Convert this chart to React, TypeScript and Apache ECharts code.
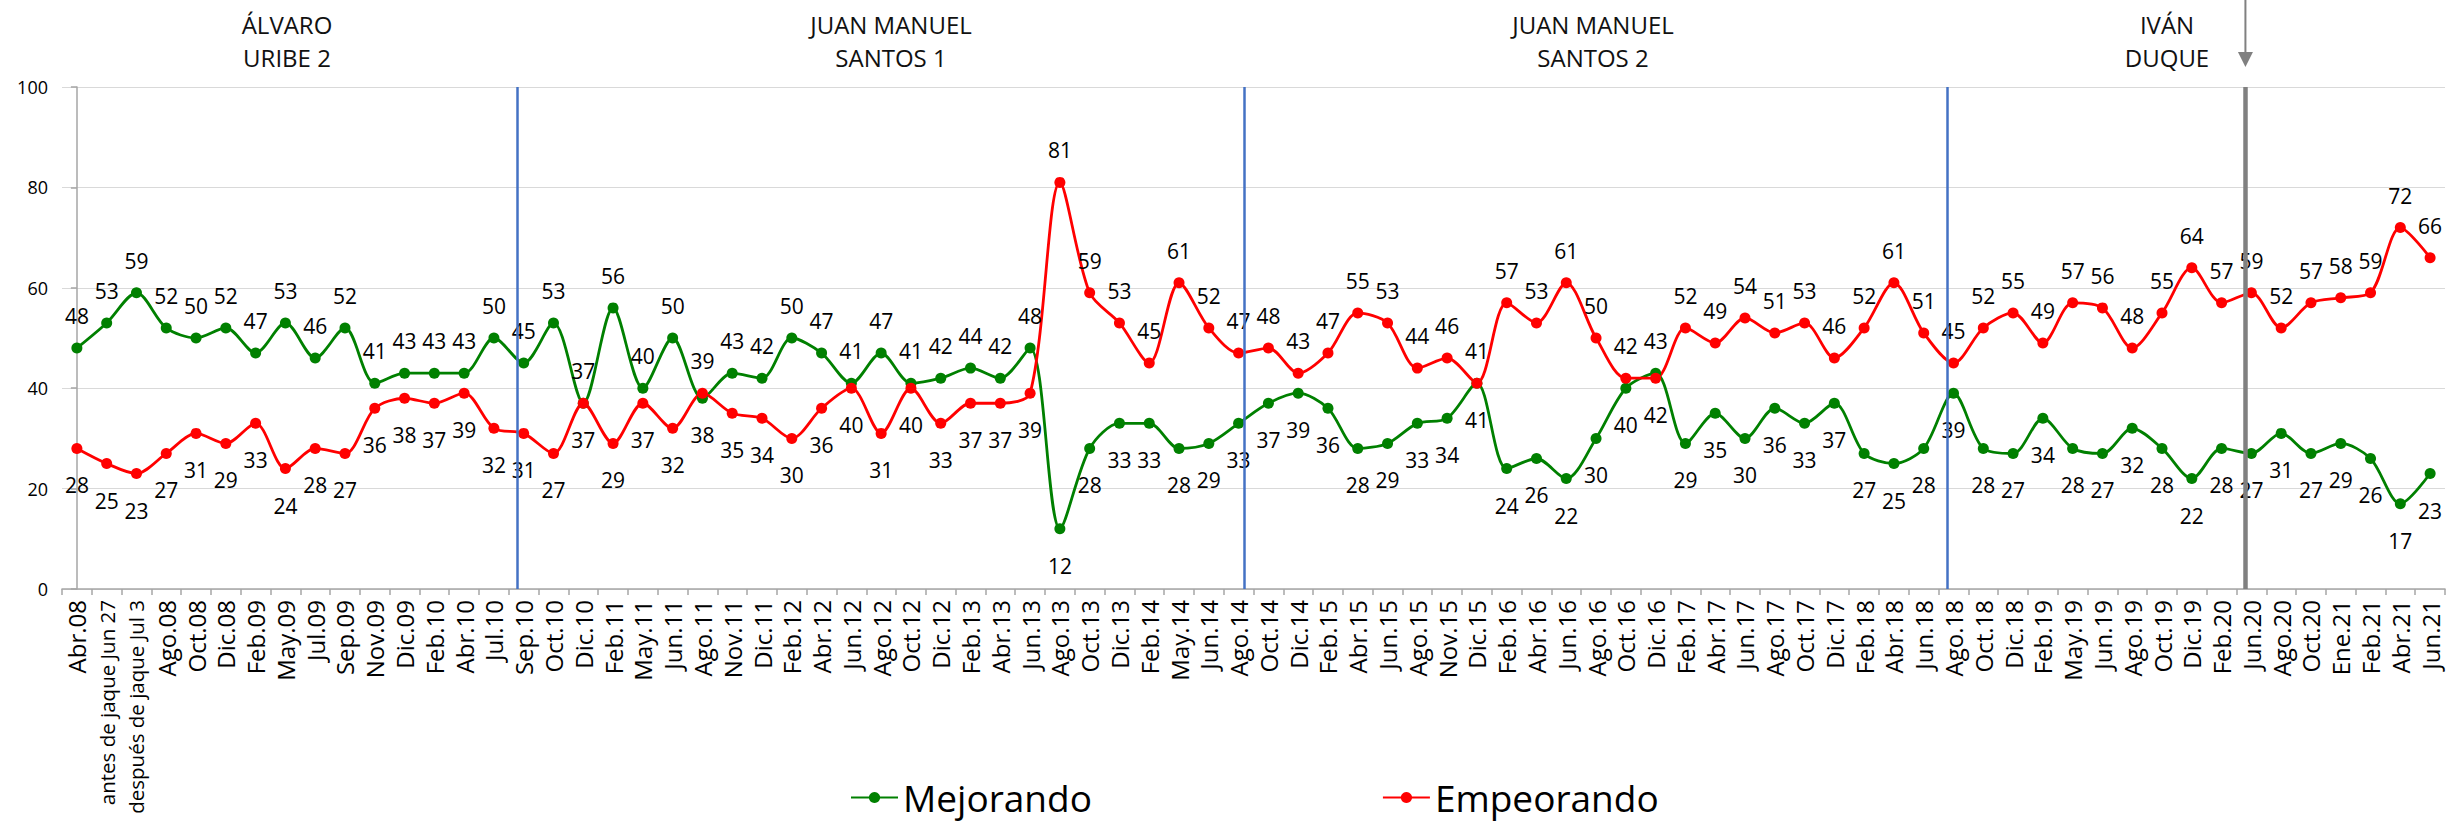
import React, { useEffect, useRef } from "react";
import * as echarts from "echarts";

const categories = [
  "Abr.08", "antes de jaque Jun 27", "después de jaque Jul 3", "Ago.08", "Oct.08", "Dic.08", "Feb.09", "May.09", "Jul.09", "Sep.09",
  "Nov.09", "Dic.09", "Feb.10", "Abr.10", "Jul.10", "Sep.10", "Oct.10", "Dic.10", "Feb.11", "May.11",
  "Jun.11", "Ago.11", "Nov.11", "Dic.11", "Feb.12", "Abr.12", "Jun.12", "Ago.12", "Oct.12", "Dic.12",
  "Feb.13", "Abr.13", "Jun.13", "Ago.13", "Oct.13", "Dic.13", "Feb.14", "May.14", "Jun.14", "Ago.14",
  "Oct.14", "Dic.14", "Feb.15", "Abr.15", "Jun.15", "Ago.15", "Nov.15", "Dic.15", "Feb.16", "Abr.16",
  "Jun.16", "Ago.16", "Oct.16", "Dic.16", "Feb.17", "Abr.17", "Jun.17", "Ago.17", "Oct.17", "Dic.17",
  "Feb.18", "Abr.18", "Jun.18", "Ago.18", "Oct.18", "Dic.18", "Feb.19", "May.19", "Jun.19", "Ago.19",
  "Oct.19", "Dic.19", "Feb.20", "Jun.20", "Ago.20", "Oct.20", "Ene.21", "Feb.21", "Abr.21", "Jun.21",
];

const mejorando = [
  48, 53, 59, 52, 50, 52, 47, 53, 46, 52,
  41, 43, 43, 43, 50, 45, 53, 37, 56, 40,
  50, 38, 43, 42, 50, 47, 41, 47, 41, 42,
  44, 42, 48, 12, 28, 33, 33, 28, 29, 33,
  37, 39, 36, 28, 29, 33, 34, 41, 24, 26,
  22, 30, 40, 43, 29, 35, 30, 36, 33, 37,
  27, 25, 28, 39, 28, 27, 34, 28, 27, 32,
  28, 22, 28, 27, 31, 27, 29, 26, 17, 23,
];

const empeorando = [
  28, 25, 23, 27, 31, 29, 33, 24, 28, 27,
  36, 38, 37, 39, 32, 31, 27, 37, 29, 37,
  32, 39, 35, 34, 30, 36, 40, 31, 40, 33,
  37, 37, 39, 81, 59, 53, 45, 61, 52, 47,
  48, 43, 47, 55, 53, 44, 46, 41, 57, 53,
  61, 50, 42, 42, 52, 49, 54, 51, 53, 46,
  52, 61, 51, 45, 52, 55, 49, 57, 56, 48,
  55, 64, 57, 59, 52, 57, 58, 59, 72, 66,
];

const yTicks = { min: 0, max: 100, interval: 20 };

// Period separators (fractional category positions)
const periodLines = [14.8, 39.18, 62.8];
const currentLine = 72.8;

const periodTitles = [
  { lines: ["ÁLVARO", "URIBE 2"], x: 287 },
  { lines: ["JUAN MANUEL", "SANTOS 1"], x: 891 },
  { lines: ["JUAN MANUEL", "SANTOS 2"], x: 1593 },
  { lines: ["IVÁN", "DUQUE"], x: 2167 },
];

const FONT = '"Open Sans", "DejaVu Sans", sans-serif';
const GREEN = "#008000";
const RED = "#FF0000";

function greenOnTop(i: number): boolean {
  const g = mejorando[i];
  const r = empeorando[i];
  if (g !== r) return g > r;
  const j = i + 1 < mejorando.length ? i + 1 : i - 1;
  return mejorando[j] > empeorando[j];
}

function labelFor(top: boolean) {
  return top ? { position: "top", distance: 16 } : { position: "bottom", distance: 21 };
}

export default function App() {
  const ref = useRef<HTMLDivElement>(null);

  useEffect(() => {
    const chart = echarts.init(ref.current!, null, { renderer: "svg" });

    const greenData = mejorando.map((v, i) => ({ value: v, label: labelFor(greenOnTop(i)) }));
    const redData = empeorando.map((v, i) => ({ value: v, label: labelFor(!greenOnTop(i)) }));

    const labelStyle = {
      show: true,
      color: "#000",
      fontFamily: FONT,
      fontSize: 21,
    };

    const option: any = {
      animation: false,
      backgroundColor: "#fff",
      grid: {
        left: 62,
        right: 18,
        top: 87,
        bottom: 233,
        containLabel: false,
        outerBoundsMode: "none",
      },
      legend: {
        data: ["Mejorando", "Empeorando"],
        left: 845,
        top: 774,
        itemWidth: 47,
        itemHeight: 14,
        itemGap: 290,
        textStyle: { fontFamily: FONT, fontSize: 37, color: "#000" },
      },
      xAxis: [
        {
          type: "category",
          data: categories,
          boundaryGap: true,
          axisLine: { lineStyle: { color: "#A6A6A6", width: 1.5 } },
          axisTick: { show: true, length: 6, alignWithLabel: false, lineStyle: { color: "#A6A6A6", width: 1.5 } },
          axisLabel: {
            interval: 0,
            rotate: 90,
            margin: 11,
            fontFamily: FONT,
            fontSize: 24,
            color: "#000",
            hideOverlap: false,
            formatter: (v: string) => (v.length > 10 ? `{long|${v}}` : v),
            rich: { long: { fontFamily: FONT, fontSize: 20.5, color: "#000" } },
          },
          splitLine: { show: false },
        },
        {
          type: "value",
          min: -0.5,
          max: categories.length - 0.5,
          show: false,
          splitLine: { show: false },
        },
      ],
      yAxis: {
        type: "value",
        min: yTicks.min,
        max: yTicks.max,
        interval: yTicks.interval,
        axisLine: { show: true, lineStyle: { color: "#A6A6A6", width: 1.5 } },
        axisTick: { show: true, length: 6, lineStyle: { color: "#A6A6A6", width: 1.5 } },
        axisLabel: { fontFamily: FONT, fontSize: 18, color: "#000", margin: 14 },
        splitLine: { lineStyle: { color: "#D9D9D9", width: 1 } },
      },
      series: [
        {
          name: "separators",
          type: "line",
          xAxisIndex: 1,
          data: [],
          silent: true,
          markLine: {
            silent: true,
            symbol: ["none", "none"],
            label: { show: false },
            data: [
              ...periodLines.map((x) => ({ xAxis: x, lineStyle: { color: "#4472C4", width: 2.5, type: "solid" } })),
              { xAxis: currentLine, lineStyle: { color: "#808080", width: 4.5, type: "solid" } },
            ],
          },
        },
        {
          name: "Mejorando",
          type: "line",
          data: greenData,
          smooth: 0.3,
          symbol: "circle",
          symbolSize: 11,
          itemStyle: { color: GREEN },
          lineStyle: { color: GREEN, width: 2.8 },
          label: labelStyle,
          z: 3,
        },
        {
          name: "Empeorando",
          type: "line",
          data: redData,
          smooth: 0.3,
          symbol: "circle",
          symbolSize: 11,
          itemStyle: { color: RED },
          lineStyle: { color: RED, width: 2.8 },
          label: labelStyle,
          z: 3,
        },
      ],
    };

    chart.setOption(option);

    const gx = chart.convertToPixel({ xAxisIndex: 1 }, currentLine) as number;
    const graphics: any[] = [];
    periodTitles.forEach((t, k) => {
      t.lines.forEach((line, li) => {
        graphics.push({
          type: "text",
          id: `title-${k}-${li}`,
          x: t.x,
          y: li === 0 ? 24 : 57,
          style: {
            text: line,
            fill: "#111",
            font: `24px ${FONT}`,
            align: "center",
            verticalAlign: "middle",
            textAlign: "center",
            textVerticalAlign: "middle",
          },
        });
      });
    });
    graphics.push({
      type: "line",
      id: "arrow-shaft",
      shape: { x1: gx, y1: 0, x2: gx, y2: 54 },
      style: { stroke: "#808080", lineWidth: 2 },
    });
    graphics.push({
      type: "polygon",
      id: "arrow-head",
      shape: { points: [[gx - 7.5, 52], [gx + 7.5, 52], [gx, 67]] },
      style: { fill: "#808080" },
    });
    chart.setOption({ graphic: graphics });

    return () => chart.dispose();
  }, []);

  return (
    <div
      ref={ref}
      style={{ position: "absolute", left: 0, top: 0, width: 2463, height: 822 }}
    />
  );
}
